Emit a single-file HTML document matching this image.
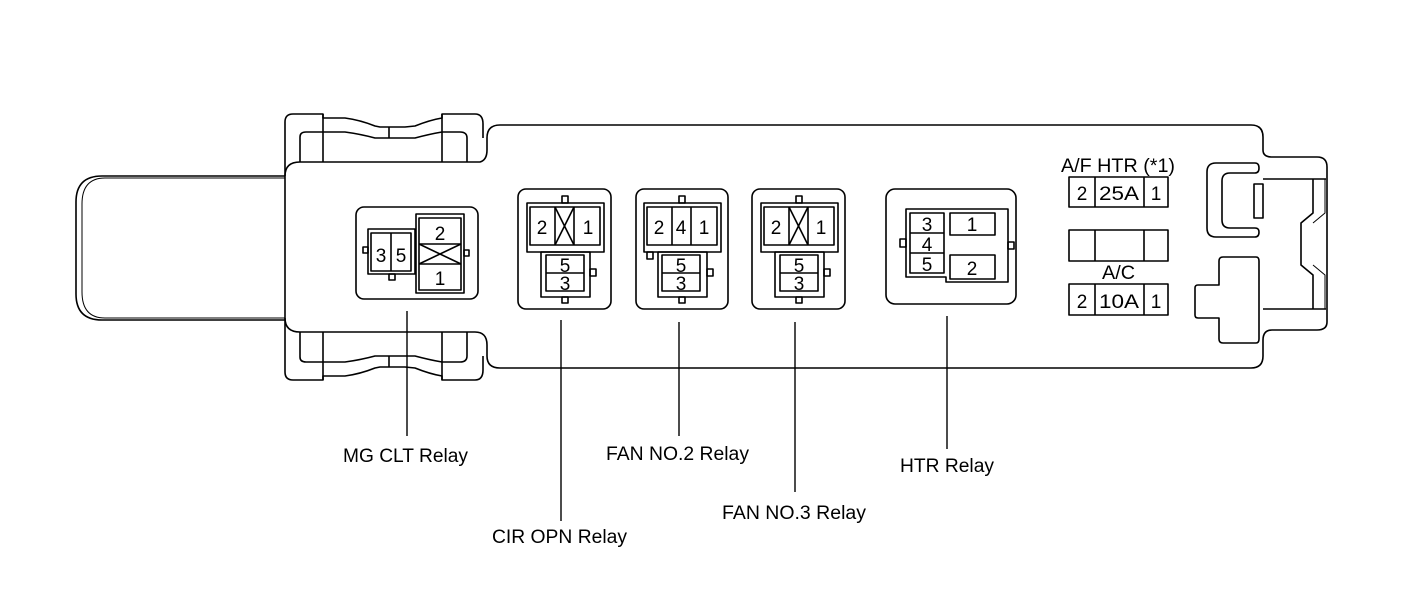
<!DOCTYPE html>
<html><head><meta charset="utf-8"><style>
html,body{margin:0;padding:0;background:#fff;}
svg{display:block;}
text{font-family:"Liberation Sans",Arial,sans-serif;fill:#000;}
</style></head><body>
<svg width="1415" height="591" viewBox="0 0 1415 591" xmlns="http://www.w3.org/2000/svg">
<g fill="none" stroke="#000" stroke-width="1.6" stroke-linejoin="round">
<!-- left tab -->
<path d="M285,176 L102,176 Q76,176 76,202 L76,294 Q76,320 102,320 L285,320"/>
<path d="M285,178 L105,178 Q82,178 82,204 L82,292 Q82,318 105,318 L285,318" stroke-width="1"/>
<!-- left section body -->
<path d="M285,176 Q285,162 300,162 L480,162 Q487,160 487,150 L487,138 Q487,125 500,125 L1251,125 Q1263,125 1263,137 L1263,150 Q1263,157 1272,157 L1317,157 Q1327,157 1327,167 L1327,322 Q1327,330 1317,330 L1272,330 Q1263,330 1263,340 L1263,356 Q1263,368 1251,368 L500,368 Q487,368 487,356 L487,345 Q487,332 475,332 L300,332 Q285,332 285,318 Z"/>
<!-- top bracket -->
<path d="M285,176 L285,122 Q285,114 293,114 L323,114 L323,118 L345,118 Q360,120 375,126 L380,127 L405,127 L415,126 Q430,120 442,118 L442,114 L475,114 Q483,114 483,124 L483,138"/>
<path d="M300,162 L300,137 Q300,132 306,132 L323,132 L345,132 Q360,134 375,138 L405,138 L415,138 Q430,134 442,132 L460,132 Q467,132 467,138 L467,162"/>
<line x1="323" y1="114" x2="323" y2="162"/><line x1="442" y1="114" x2="442" y2="162"/><line x1="389" y1="127" x2="389" y2="138"/>
<!-- bottom bracket -->
<path d="M285,318 L285,372 Q285,380 293,380 L323,380 L323,376 L345,376 Q360,374 375,368 L380,367 L405,367 L415,368 Q430,374 442,376 L442,380 L475,380 Q483,380 483,370 L483,356"/>
<path d="M300,332 L300,357 Q300,362 306,362 L323,362 L345,362 Q360,360 375,356 L405,356 L415,356 Q430,360 442,362 L460,362 Q467,362 467,356 L467,332"/>
<line x1="323" y1="332" x2="323" y2="380"/><line x1="442" y1="332" x2="442" y2="380"/><line x1="389" y1="356" x2="389" y2="367"/>
<!-- right tab inner lines -->
<line x1="1263" y1="179" x2="1326" y2="179"/><line x1="1263" y1="309" x2="1326" y2="309"/>
<path d="M1313,179 L1313,213 L1301,223 L1301,265 L1313,275 L1313,309"/>
<path d="M1325,179 L1325,213 L1313,223 M1313,265 L1325,275 L1325,309" stroke-width="1"/>
<!-- hook -->
<path d="M1216,163 L1255,163 Q1259,163 1259,168 Q1259,173 1255,173 L1230,173 Q1222,173 1222,181 L1222,220 Q1222,228 1230,228 L1255,228 Q1259,228 1259,232 Q1259,237 1255,237 L1216,237 Q1207,237 1207,228 L1207,172 Q1207,163 1216,163 Z"/>
<rect x="1254" y="184" width="9" height="34"/>
<!-- T shape -->
<path d="M1223,257 L1256,257 Q1259,257 1259,261 L1259,339 Q1259,343 1256,343 L1223,343 Q1219,343 1219,339 L1219,318 L1198,318 Q1195,318 1195,315 L1195,288 Q1195,285 1198,285 L1219,285 L1219,261 Q1219,257 1223,257 Z"/>

<!-- MG CLT relay -->
<rect x="356" y="207" width="122" height="92" rx="8"/>
<rect x="368" y="229" width="47" height="45"/>
<rect x="371" y="233" width="40" height="38"/>
<line x1="391" y1="233" x2="391" y2="271"/>
<rect x="363" y="247" width="5" height="6"/><rect x="389" y="274" width="6" height="6"/>
<rect x="416" y="214" width="48" height="79"/>
<rect x="419" y="218" width="42" height="72"/>
<line x1="419" y1="244" x2="461" y2="244"/><line x1="419" y1="264" x2="461" y2="264"/>
<line x1="419" y1="244" x2="461" y2="264"/><line x1="419" y1="264" x2="461" y2="244"/>
<rect x="464" y="250" width="5" height="6"/>

<!-- Relay boxes 1-3 -->
<g id="r1">
<rect x="518" y="189" width="93" height="120" rx="8"/>
<rect x="527" y="203" width="77" height="49"/>
<rect x="530" y="207" width="70" height="38"/>
<rect x="541" y="252" width="49" height="45"/>
<rect x="546" y="255" width="38" height="36"/>
<line x1="546" y1="273" x2="584" y2="273"/>
<rect x="562" y="196" width="6" height="7"/><rect x="562" y="297" width="6" height="6"/><rect x="590" y="269" width="6" height="7"/>
</g>
<line x1="555" y1="207" x2="555" y2="245"/><line x1="574" y1="207" x2="574" y2="245"/>
<line x1="555" y1="207" x2="574" y2="245"/><line x1="574" y1="207" x2="555" y2="245"/>

<rect x="636" y="189" width="92" height="120" rx="8"/>
<rect x="644" y="203" width="77" height="49"/>
<rect x="647" y="207" width="70" height="38"/>
<line x1="672" y1="207" x2="672" y2="245"/><line x1="691" y1="207" x2="691" y2="245"/>
<rect x="658" y="252" width="49" height="45"/>
<rect x="662" y="255" width="38" height="36"/>
<line x1="662" y1="273" x2="700" y2="273"/>
<rect x="679" y="196" width="6" height="7"/><rect x="679" y="297" width="6" height="6"/><rect x="707" y="269" width="6" height="7"/><rect x="647" y="252" width="6" height="7"/>

<rect x="752" y="189" width="93" height="120" rx="8"/>
<rect x="761" y="203" width="77" height="49"/>
<rect x="764" y="207" width="70" height="38"/>
<line x1="789" y1="207" x2="789" y2="245"/><line x1="808" y1="207" x2="808" y2="245"/>
<line x1="789" y1="207" x2="808" y2="245"/><line x1="808" y1="207" x2="789" y2="245"/>
<rect x="775" y="252" width="49" height="45"/>
<rect x="780" y="255" width="38" height="36"/>
<line x1="780" y1="273" x2="818" y2="273"/>
<rect x="796" y="196" width="6" height="7"/><rect x="796" y="297" width="6" height="6"/><rect x="824" y="269" width="6" height="7"/>

<!-- HTR relay -->
<rect x="886" y="189" width="130" height="115" rx="9"/>
<path d="M906,209 L1008,209 L1008,282 L946,282 L946,277 L906,277 Z"/>
<rect x="910" y="213" width="34" height="60"/>
<line x1="910" y1="233" x2="944" y2="233"/><line x1="910" y1="253" x2="944" y2="253"/>
<rect x="950" y="213" width="45" height="22"/>
<rect x="950" y="255" width="45" height="24"/>
<rect x="900" y="239" width="6" height="8"/><rect x="1008" y="242" width="6" height="7"/>

<!-- fuses -->
<rect x="1069" y="177" width="99" height="30"/><line x1="1095" y1="177" x2="1095" y2="207"/><line x1="1144" y1="177" x2="1144" y2="207"/>
<rect x="1069" y="230" width="99" height="31"/><line x1="1095" y1="230" x2="1095" y2="261"/><line x1="1144" y1="230" x2="1144" y2="261"/>
<rect x="1069" y="284" width="99" height="31"/><line x1="1095" y1="284" x2="1095" y2="315"/><line x1="1144" y1="284" x2="1144" y2="315"/>

<!-- leader lines -->
<g stroke-width="1.4">
<line x1="407" y1="311" x2="407" y2="436"/>
<line x1="561" y1="320" x2="561" y2="521"/>
<line x1="679" y1="322" x2="679" y2="436"/>
<line x1="795" y1="322" x2="795" y2="492"/>
<line x1="947" y1="316" x2="947" y2="449"/>
</g>
</g>

<g font-size="19">
<text x="381" y="262" text-anchor="middle">3</text><text x="401" y="262" text-anchor="middle">5</text>
<text x="440" y="240" text-anchor="middle">2</text><text x="440" y="285" text-anchor="middle">1</text>
<text x="542" y="234" text-anchor="middle">2</text><text x="588" y="234" text-anchor="middle">1</text>
<text x="565" y="272" text-anchor="middle">5</text><text x="565" y="290" text-anchor="middle">3</text>
<text x="659" y="234" text-anchor="middle">2</text><text x="681" y="234" text-anchor="middle">4</text><text x="704" y="234" text-anchor="middle">1</text>
<text x="681" y="272" text-anchor="middle">5</text><text x="681" y="290" text-anchor="middle">3</text>
<text x="776" y="234" text-anchor="middle">2</text><text x="821" y="234" text-anchor="middle">1</text>
<text x="799" y="272" text-anchor="middle">5</text><text x="799" y="290" text-anchor="middle">3</text>
<text x="927" y="231" text-anchor="middle">3</text><text x="927" y="251" text-anchor="middle">4</text><text x="927" y="271" text-anchor="middle">5</text>
<text x="972" y="231" text-anchor="middle">1</text><text x="972" y="275" text-anchor="middle">2</text>
<text x="1082" y="200" text-anchor="middle">2</text><text x="1119" y="200" text-anchor="middle" textLength="40" lengthAdjust="spacingAndGlyphs">25A</text><text x="1156" y="200" text-anchor="middle">1</text>
<text x="1082" y="308" text-anchor="middle">2</text><text x="1119" y="308" text-anchor="middle" textLength="40" lengthAdjust="spacingAndGlyphs">10A</text><text x="1156" y="308" text-anchor="middle">1</text>
<text x="1061" y="172" textLength="114" lengthAdjust="spacingAndGlyphs">A/F HTR (*1)</text>
<text x="1102" y="279" textLength="33" lengthAdjust="spacingAndGlyphs">A/C</text>
</g>
<g font-size="19">
<text x="343" y="462" textLength="125" lengthAdjust="spacingAndGlyphs">MG CLT Relay</text>
<text x="606" y="460" textLength="143" lengthAdjust="spacingAndGlyphs">FAN NO.2 Relay</text>
<text x="900" y="472" textLength="94" lengthAdjust="spacingAndGlyphs">HTR Relay</text>
<text x="722" y="519" textLength="144" lengthAdjust="spacingAndGlyphs">FAN NO.3 Relay</text>
<text x="492" y="543" textLength="135" lengthAdjust="spacingAndGlyphs">CIR OPN Relay</text>
</g>
</svg>
</body></html>
